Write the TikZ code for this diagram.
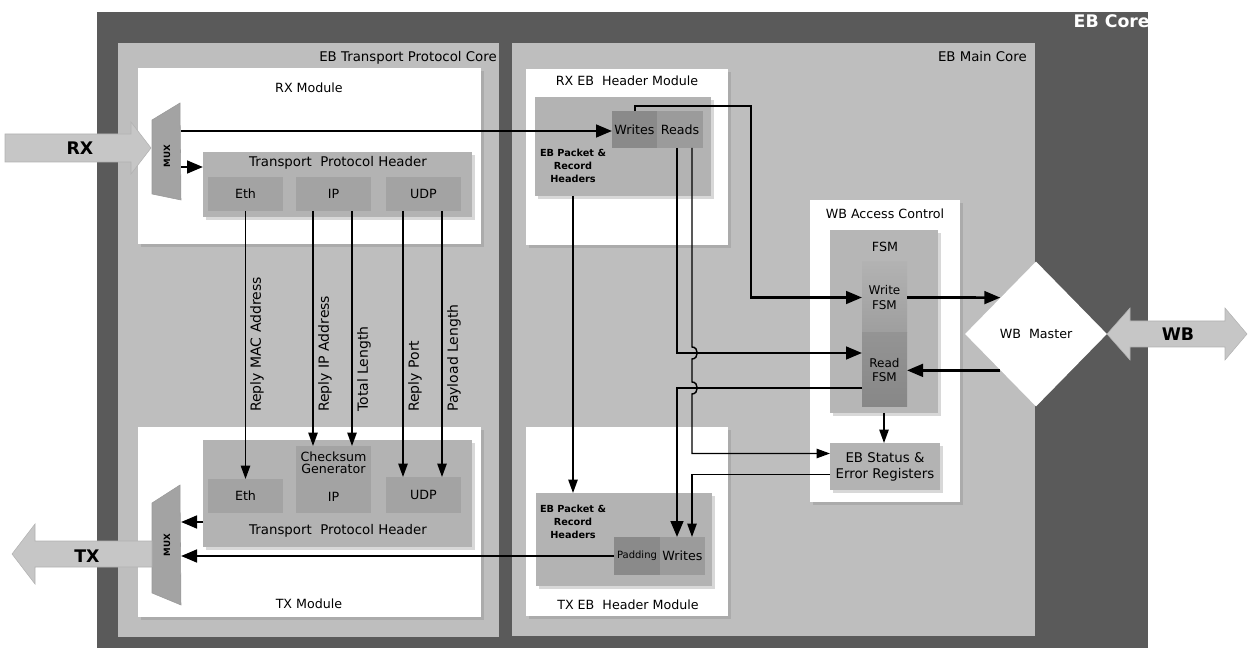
\documentclass[tikz,border=0pt]{standalone}
\usepackage{fontspec}
\setmainfont{DejaVu Sans}
\usetikzlibrary{fit,shadows,arrows.meta,calc,shapes.geometric}
\definecolor{coredark}{HTML}{5A5A5A}
\definecolor{corelight}{HTML}{BEBEBE}
\definecolor{hdrgray}{HTML}{B3B3B3}
\definecolor{innergray}{HTML}{A3A3A3}
\definecolor{darkbox}{HTML}{8A8A8A}
\definecolor{midbox}{HTML}{9B9B9B}
\definecolor{fsmgray}{HTML}{B6B6B6}
\definecolor{arrowgray}{HTML}{C6C6C6}
\begin{document}
\begin{tikzpicture}[x=0.75pt,y=-0.75pt,
  box/.style={inner sep=0pt,outer sep=0pt},
  shad/.style={drop shadow={shadow xshift=2.5pt,shadow yshift=-2.5pt,opacity=0.3}},
  lbl/.style={inner sep=0pt,font=\fontsize{10}{11}\selectfont},
  small/.style={inner sep=0pt,font=\fontsize{9.5}{10.5}\selectfont},
  tiny/.style={inner sep=0pt,align=center,font=\bfseries\fontsize{7.3}{9.5}\selectfont},
  vlbl/.style={inner sep=0pt,rotate=90,anchor=north west,font=\fontsize{10.5}{12}\selectfont},
  big/.style={inner sep=0pt,font=\bfseries\fontsize{13}{15}\selectfont},
  warrow/.style={line width=1.1pt,-{Triangle[length=10pt,width=7pt]}},
  tarrow/.style={line width=2pt,-{Triangle[length=12pt,width=9.5pt]}},
  fatarrow/.style={fill=arrowgray,draw=black!30,line width=0.4pt},
  muxshape/.style={fill=innergray,draw=black!40,line width=0.4pt}
]
\useasboundingbox (0,0) rectangle (1249,655);

% ---------- cores ----------
\node[box,fill=coredark,fit={(97,12)(1148,648)}] (ebcore) {};
\node[big,text=white,anchor=north east] (ebcorelbl) at (1150,14) {EB Core};
\node[box,fill=corelight,fit={(118,43)(499,637)}] (tpcore) {};
\node[lbl,anchor=north east] (tpcorelbl) at (497,51) {EB Transport Protocol Core};
\node[box,fill=corelight,fit={(512,43)(1035,636)}] (maincore) {};
\node[lbl,anchor=north east] (maincorelbl) at (1027,51) {EB Main Core};

% ---------- RX module ----------
\node[box,fill=white,shad,fit={(138,68)(481,244)}] (rxmod) {};
\node[small] (rxmodlbl) at (309,88) {RX Module};
\node[box,fill=hdrgray,shad,fit={(203,152)(472,217)}] (rxtph) {};
\node[lbl] (rxtphlbl) at (338,163) {Transport\ \ Protocol Header};
\node[box,fill=innergray,fit={(208,177)(283,211)}] (ethrx) {};
\node[small] at (ethrx) {Eth};
\node[box,fill=innergray,fit={(296,177)(371,211)}] (iprx) {};
\node[small] at (iprx) {IP};
\node[box,fill=innergray,fit={(386,177)(461,211)}] (udprx) {};
\node[small] at (udprx) {UDP};
\draw[muxshape] (152,120) -- (180,103) -- (181,200) -- (152,194) -- cycle;
\node[inner sep=0pt,rotate=90,font=\bfseries\fontsize{6.5}{7}\selectfont] (muxrx) at (167,156) {MUX};
\coordinate (muxrxa) at (181,131);
\coordinate (muxrxb) at (181,167);

% ---------- TX module ----------
\node[box,fill=white,shad,fit={(138,427)(481,617)}] (txmod) {};
\node[small] (txmodlbl) at (309,604) {TX Module};
\node[box,fill=hdrgray,shad,fit={(203,440)(472,547)}] (txtph) {};
\node[lbl] (txtphlbl) at (338,531) {Transport\ \ Protocol Header};
\node[box,fill=innergray,fit={(208,479)(283,513)}] (ethtx) {};
\node[small] at (ethtx) {Eth};
\node[box,fill=innergray,fit={(296,446)(371,480)}] (cksum) {};
\node[inner sep=0pt,align=center,font=\fontsize{9.5}{9}\selectfont] at (cksum) {Checksum\\Generator};
\node[box,fill=innergray,fit={(296,480)(371,513)}] (iptx) {};
\node[small] at (iptx) {IP};
\node[box,fill=innergray,fit={(386,477)(461,513)}] (udptx) {};
\node[small] at (udptx) {UDP};
\draw[muxshape] (152,503) -- (180,485) -- (181,605) -- (152,593) -- cycle;
\node[inner sep=0pt,rotate=90,font=\bfseries\fontsize{6.5}{7}\selectfont] (muxtx) at (167,545) {MUX};
\coordinate (muxtxa) at (181,522);
\coordinate (muxtxb) at (181,557);

% ---------- big I/O arrows ----------
\draw[fatarrow] (5,134) -- (131,134) -- (131,122) -- (151,148) -- (131,174) -- (131,162) -- (5,162) -- cycle;
\node[big] (rxlbl) at (80,148) {RX};
\draw[fatarrow] (12,554) -- (35,524) -- (35,541) -- (152,541) -- (152,567) -- (35,567) -- (35,584) -- cycle;
\node[big] (txlbl) at (87,556) {TX};
\draw[fatarrow] (1107,334) -- (1130,308) -- (1130,321) -- (1225,321) -- (1225,308) -- (1247,334) -- (1225,360) -- (1225,347) -- (1130,347) -- (1130,360) -- cycle;
\node[big] (wblbl) at (1178,334) {WB};

% ---------- RX EB header module ----------
\node[box,fill=white,shad,fit={(526,69)(728,245)}] (rxeb) {};
\node[small] (rxeblbl) at (627,81) {RX EB\ \ Header Module};
\node[box,fill=hdrgray,shad,fit={(535,97)(711,196)}] (rxebin) {};
\node[tiny] (rxebinlbl) at (573,166) {EB Packet \&\\Record\\Headers};
\node[box,fill=darkbox,fit={(612,111)(657,148)}] (wrw) {};
\node[box,fill=midbox,fit={(657,111)(703,148)}] (wrr) {};
\node[box,fit={(612,111)(703,148)}] (wrrx) {};
\node[small] at (wrw) {Writes};
\node[small] at (wrr) {Reads};

% ---------- TX EB header module ----------
\node[box,fill=white,shad,fit={(526,427)(728,616)}] (txeb) {};
\node[small] (txeblbl) at (628,605) {TX EB\ \ Header Module};
\node[box,fill=hdrgray,shad,fit={(536,493)(712,586)}] (txebin) {};
\node[tiny] (txebinlbl) at (573,522) {EB Packet \&\\Record\\Headers};
\node[box,fill=darkbox,fit={(614,537)(660,575)}] (pad) {};
\node[box,fill=midbox,fit={(660,537)(705,575)}] (wrt) {};
\node[box,fit={(614,537)(705,575)}] (padwr) {};
\node[inner sep=0pt,font=\fontsize{7.5}{8}\selectfont] at (pad) {Padding};
\node[small] at (wrt) {Writes};

% ---------- WB access control ----------
\node[box,fill=white,shad,fit={(810,200)(960,502)}] (wbac) {};
\node[small] (wbaclbl) at (885,214) {WB Access Control};
\node[box,fill=fsmgray,shad,fit={(830,230)(938,413)}] (fsm) {};
\node[small] (fsmlbl) at (885,247) {FSM};
\node[box,top color=black!30,bottom color=black!38,fit={(862,262)(907,333)}] (wfsm) {};
\node[inner sep=0pt,align=center,font=\fontsize{9}{11}\selectfont] at (wfsm) {Write\\FSM};
\node[box,top color=black!42,bottom color=black!47,fit={(862,333)(907,407)}] (rfsm) {};
\node[inner sep=0pt,align=center,font=\fontsize{9}{11}\selectfont] at (rfsm) {Read\\FSM};
\node[box,fill=hdrgray,shad,fit={(830,443)(940,490)}] (status) {};
\node[inner sep=0pt,align=center,font=\fontsize{10}{12}\selectfont] at (status) {EB Status \&\\Error Registers};

% ---------- WB master ----------
\node[diamond,fill=white,inner sep=0pt,minimum width=142*0.75pt,minimum height=145*0.75pt] (wbm) at (1036,334) {};
\node[small] (wbmlbl) at (wbm) {WB\ \ Master};

% ---------- transport connectors ----------
\draw[warrow] (ethrx.south) -- (ethtx.north);
\draw[warrow] ($(iprx.south west)+(17,0)$) -- ($(cksum.north west)+(17,0)$);
\draw[warrow] ($(iprx.south west)+(56,0)$) -- ($(cksum.north west)+(56,0)$);
\draw[warrow] ($(udprx.south west)+(17,0)$) -- ($(udptx.north west)+(17,0)$);
\draw[warrow] ($(udprx.south west)+(56,0)$) -- ($(udptx.north west)+(56,0)$);
\node[vlbl] (l1) at (250,412) {Reply MAC Address};
\node[vlbl] (l2) at (318,412) {Reply IP Address};
\node[vlbl] (l3) at (357,412) {Total Length};
\node[vlbl] (l4) at (408,412) {Reply Port};
\node[vlbl] (l5) at (447,412) {Payload Length};

\draw[tarrow] (muxrxb) -- (muxrxb -| rxtph.west);
\draw[tarrow] (muxrxa) -- (muxrxa -| wrrx.west);
\draw[tarrow] (muxtxa -| txtph.west) -- (muxtxa);
\draw[tarrow] (padwr.west) -- (padwr.west -| muxtxb);

% ---------- main core connectors ----------
\draw[tarrow] ($(wrrx.north west)+(23,0)$) -- ++(0,-5) -- ++(116,0) |- (wfsm.west);
\coordinate (rd1) at ($(wrrx.south west)+(65,0)$);
\coordinate (rd2) at ($(wrrx.south west)+(80,0)$);
\draw[tarrow] (rd1) |- ($(rfsm.west)+(0,-17)$);
\draw[tarrow] ($(rfsm.west)+(0,18)$) -| ($(padwr.north west)+(63,0)$);
\draw[warrow] (rd2) -- (692,347) .. controls (699,347) and (699,359) .. (692,359) -- (692,382) .. controls (699,382) and (699,394) .. (692,394) |- ($(status.west)+(0,-13)$);
\draw[warrow] ($(status.west)+(0,8)$) -| ($(padwr.north west)+(78,0)$);
\draw[warrow] ($(rxebin.south west)+(38,0)$) -- ($(txebin.north west)+(37,0)$);
\draw[warrow] (fsm.south) -- (fsm.south |- status.north);
\draw[tarrow] (wfsm.east) -- ($(wbm.west)!0.5!(wbm.north)$);
\draw[tarrow] ($(wbm.west)!0.5!(wbm.south)$) -- (rfsm.east |- {$(wbm.west)!0.5!(wbm.south)$});
\end{tikzpicture}
\end{document}
